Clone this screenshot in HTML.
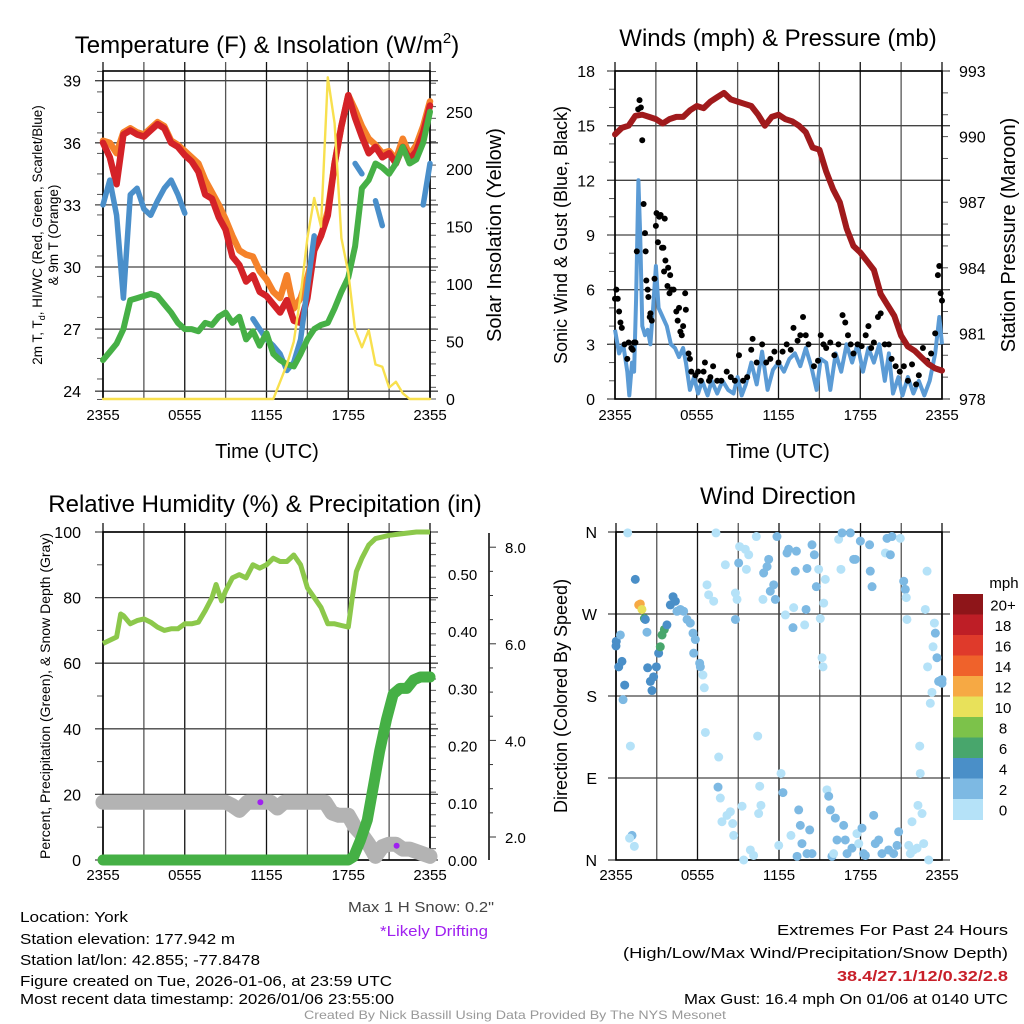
<!DOCTYPE html>
<html><head><meta charset="utf-8"><style>
html,body{margin:0;padding:0;background:#fff;}
svg{display:block;font-family:"Liberation Sans",sans-serif;}
</style></head><body>
<svg id="fig" width="1024" height="1024" viewBox="0 0 1024 1024" xmlns="http://www.w3.org/2000/svg">
<rect width="1024" height="1024" fill="#fff"/>
<g id="p1"></g>
<g id="p2"></g>
<g id="p3"></g>
<g id="p4"></g>

<text x="267" y="53" font-size="24" text-anchor="middle">Temperature (F) &amp; Insolation (W/m<tspan font-size="15" dy="-10">2</tspan><tspan dy="10">)</tspan></text>
<text x="778" y="46" font-size="24" text-anchor="middle">Winds (mph) &amp; Pressure (mb)</text>
<text x="265" y="512" font-size="24" text-anchor="middle">Relative Humidity (%) &amp; Precipitation (in)</text>
<text x="778" y="504" font-size="24" text-anchor="middle">Wind Direction</text>

<text x="267" y="458" font-size="20" text-anchor="middle">Time (UTC)</text>
<text x="778" y="458" font-size="20" text-anchor="middle">Time (UTC)</text>

<text transform="translate(42,235) rotate(-90)" font-size="13.5" text-anchor="middle">2m T, T<tspan font-size="9" dy="3">d</tspan><tspan dy="-3">, HI/WC (Red, Green, Scarlet/Blue)</tspan></text>
<text transform="translate(58,235) rotate(-90)" font-size="13.5" text-anchor="middle">&amp; 9m T (Orange)</text>
<text transform="translate(501,235) rotate(-90)" font-size="20" text-anchor="middle">Solar Insolation (Yellow)</text>
<text transform="translate(567,235) rotate(-90)" font-size="18" text-anchor="middle">Sonic Wind &amp; Gust (Blue, Black)</text>
<text transform="translate(1015,235) rotate(-90)" font-size="20" text-anchor="middle">Station Pressure (Maroon)</text>
<text transform="translate(50,696) rotate(-90)" font-size="14" text-anchor="middle">Percent, Precipitation (Green), &amp; Snow Depth (Gray)</text>
<text transform="translate(567,696) rotate(-90)" font-size="18" text-anchor="middle">Direction (Colored By Speed)</text>

<text x="494" y="912" font-size="15" fill="#444" text-anchor="end" textLength="146" lengthAdjust="spacingAndGlyphs">Max 1 H Snow: 0.2"</text>
<text x="488" y="936" font-size="15" fill="#a020f0" text-anchor="end" textLength="108" lengthAdjust="spacingAndGlyphs">*Likely Drifting</text>

<g font-size="15">
<text x="20" y="922" textLength="108" lengthAdjust="spacingAndGlyphs">Location: York</text>
<text x="20" y="944" textLength="215" lengthAdjust="spacingAndGlyphs">Station elevation: 177.942 m</text>
<text x="20" y="965" textLength="240" lengthAdjust="spacingAndGlyphs">Station lat/lon: 42.855; -77.8478</text>
<text x="20" y="986" textLength="372" lengthAdjust="spacingAndGlyphs">Figure created on Tue, 2026-01-06, at 23:59 UTC</text>
<text x="20" y="1004" textLength="374" lengthAdjust="spacingAndGlyphs">Most recent data timestamp: 2026/01/06 23:55:00</text>
</g>
<g font-size="15" text-anchor="end">
<text x="1008" y="935" textLength="231" lengthAdjust="spacingAndGlyphs">Extremes For Past 24 Hours</text>
<text x="1008" y="958" textLength="385" lengthAdjust="spacingAndGlyphs">(High/Low/Max Wind/Precipitation/Snow Depth)</text>
<text x="1008" y="981" font-weight="bold" fill="#c8202a" textLength="171" lengthAdjust="spacingAndGlyphs">38.4/27.1/12/0.32/2.8</text>
<text x="1008" y="1004" textLength="324" lengthAdjust="spacingAndGlyphs">Max Gust: 16.4 mph On 01/06 at 0140 UTC</text>
</g>
<text x="515" y="1019" font-size="12" fill="#999" text-anchor="middle" textLength="422" lengthAdjust="spacingAndGlyphs">Created By Nick Bassill Using Data Provided By The NYS Mesonet</text>
</svg>
<script>
// ---------- data ----------
const halfHours = [0,0.5,1,1.5,2,2.5,3,3.5,4,4.5,5,5.5,6,6.5,7,7.5,8,8.5,9,9.5,10,10.5,11,11.5,12,12.5,13,13.5,14,14.5,15,15.5,16,16.5,17,17.5,18,18.5,19,19.5,20,20.5,21,21.5,22,22.5,23,23.5,24];
const timeTickLabels = ["2355","0555","1155","1755","2355"];
const temp2m = [36.0,35.3,34.0,36.4,36.6,36.4,36.3,36.6,36.9,36.7,36.0,35.8,35.4,35.1,34.6,33.5,33.3,32.4,31.8,30.5,30.1,29.3,29.6,28.8,28.6,28.2,27.8,28.4,27.4,27.3,28.5,30.8,31.5,32.5,35.0,36.8,38.3,37.2,36.3,35.5,35.8,35.3,35.5,35.0,35.8,35.2,35.6,36.5,37.8];
const temp9m = [36.1,36.0,35.5,36.5,36.7,36.5,36.4,36.7,37.0,36.8,36.1,35.9,35.6,35.3,35.0,34.2,33.6,33.0,32.3,31.5,30.8,30.6,30.5,29.8,29.4,28.8,28.5,29.6,28.0,28.5,29.5,30.8,31.5,32.7,35.0,36.8,38.3,37.6,36.8,36.2,35.9,35.5,35.6,35.2,36.2,35.4,35.9,36.8,38.0];
const dewpoint = [25.5,25.9,26.3,27.0,28.4,28.5,28.6,28.7,28.6,28.2,27.8,27.3,27.0,27.0,26.9,27.3,27.2,27.6,27.8,27.3,27.6,26.5,26.9,26.2,26.8,25.8,25.5,25.3,25.2,25.8,26.5,27.0,27.2,27.3,28.0,28.8,29.5,31.0,33.8,34.2,35.0,34.8,34.5,35.0,35.8,35.0,35.2,36.0,37.5];
const windChill = [33.0,34.2,32.5,28.5,33.5,33.8,32.8,32.5,33.2,33.8,34.2,33.5,32.6,null,null,null,null,null,null,null,null,null,27.5,27.0,26.5,26.2,25.8,25.0,25.4,26.5,29.0,31.5,null,null,34.5,null,null,35.0,34.5,null,33.2,32.0,null,null,null,null,null,33.0,35.0];
const insolation = [0,0,0,0,0,0,0,0,0,0,0,0,0,0,0,0,0,0,0,0,0,0,0,0,0,0,15,30,50,90,140,175,150,280,240,140,110,60,45,60,30,28,10,15,5,0,0,0,0];
const tempTicks = [24,27,30,33,36,39];
const insolTicks = [0,50,100,150,200,250];

const pressure = [990.1,990.4,990.5,990.95,991.0,990.9,990.8,990.6,990.8,990.9,990.9,991.2,991.4,991.3,991.6,991.8,992.0,991.7,991.6,991.5,991.4,991.0,990.5,990.9,991.0,990.8,990.7,990.5,990.2,989.5,989.4,988.4,987.6,987.0,985.8,985.0,984.7,984.3,983.9,982.8,982.3,981.8,980.9,980.4,980.2,979.9,979.6,979.4,979.3];
const windTimes = [0,0.3,0.6,0.9,1.05,1.25,1.4,1.55,1.72,1.85,2.0,2.2,2.4,2.6,2.8,3.0,3.2,3.5,3.8,4.1,4.4,4.7,5.0,5.2,5.5,5.8,6.1,6.4,6.8,7.1,7.5,7.9,8.3,8.7,9.0,9.3,9.6,10.0,10.4,10.8,11.2,11.6,12.0,12.4,12.8,13.2,13.6,14.0,14.4,14.8,15.1,15.5,15.8,16.2,16.6,17.0,17.4,17.8,18.2,18.6,19.0,19.4,19.8,20.1,20.4,20.8,21.1,21.5,21.9,22.3,22.7,23.1,23.5,23.8,24.0];
const windSpeed = [3.8,2.5,3.0,1.5,0.2,2.0,1.5,5.5,12.0,9.0,4.0,3.5,3.8,3.0,5.0,7.3,5.0,4.5,4.0,3.0,2.8,2.3,2.8,2.0,0.5,1.2,0.3,1.0,0.2,1.0,0.3,1.0,0.5,0.3,1.2,0.2,0.8,2.0,0.8,2.6,0.5,1.6,2.0,1.5,2.2,2.5,1.8,2.8,1.8,0.5,2.2,2.0,0.5,2.5,1.5,3.0,2.0,3.0,1.5,2.8,2.0,3.0,1.0,2.5,0.3,1.2,0.2,1.2,0.3,1.0,0.2,1.0,2.5,4.5,3.0];
const gustTimes = [0,0.1,0.2,0.3,0.4,0.5,0.7,0.9,1.0,1.2,1.3,1.4,1.5,1.6,1.7,1.8,1.9,2.0,2.1,2.2,2.25,2.3,2.4,2.45,2.55,2.6,2.7,2.9,3.0,3.05,3.15,3.25,3.35,3.45,3.55,3.65,3.6,3.7,3.85,3.9,4.0,4.05,4.15,4.3,4.5,4.6,4.7,4.8,4.9,5.0,5.15,5.2,5.4,5.5,5.6,5.9,6.1,6.3,6.5,6.6,6.9,7.0,7.2,7.5,7.8,8.2,8.5,8.8,9.1,9.4,9.7,10.0,10.1,10.4,10.8,11.1,11.4,11.7,12.0,12.3,12.6,12.9,13.1,13.4,13.6,13.8,14.0,14.2,14.6,14.9,15.1,15.3,15.5,15.8,16.1,16.4,16.7,16.9,17.1,17.3,17.5,17.8,18.1,18.4,18.6,18.8,19.0,19.3,19.5,19.8,20.1,20.3,20.6,20.9,21.2,21.5,21.8,22.1,22.3,22.6,22.9,23.2,23.5,23.7,23.8,23.9,24.0];
const gustSpeed = [5.5,6.0,5.5,4.8,4.2,3.9,3.0,2.2,3.1,2.8,2.7,3.1,3.1,8.1,15.9,16.4,16.0,14.2,10.7,9.1,8.1,6.5,6.0,5.6,4.5,4.7,4.3,6.6,9.5,10.2,8.6,10.0,10.1,8.3,8.3,9.9,7.0,7.6,6.2,7.2,5.8,6.8,6.0,6.0,4.8,4.3,5.0,3.7,3.5,4.0,5.8,4.9,2.5,2.2,1.5,1.3,1.5,1.0,1.5,2.0,1.0,1.2,1.8,1.0,1.0,1.5,1.2,1.0,2.4,1.0,1.2,2.7,3.3,2.0,3.0,2.0,2.2,2.6,2.0,2.6,3.0,2.7,3.9,3.2,3.5,4.5,3.5,3.0,1.8,2.1,3.5,3.0,2.8,3.1,2.4,3.0,4.6,4.2,3.5,3.0,2.5,3.0,2.9,3.5,4.0,2.8,3.1,4.5,4.7,3.0,3.0,2.2,1.8,1.5,1.8,1.0,1.9,0.8,1.3,2.8,2.1,2.5,3.6,6.8,7.3,5.8,5.4];
const windTicks = [0,3,6,9,12,15,18];
const pressureTicks = [978,981,984,987,990,993];

const rhTimes = [0,0.5,1,1.3,1.5,2,2.5,3,3.5,4,4.5,5,5.5,6,6.5,7,7.5,8,8.3,8.7,9,9.5,10,10.5,11,11.5,12,12.5,13,13.5,14,14.5,15,15.5,16,16.5,17,17.5,18,18.3,18.6,19,19.5,20,21,22,23,24];
const rhValues = [66,67,68,75,74.5,72,73,73.5,72.5,71,70,70.5,70.5,72,72,72.5,76,80,84,79,82,86,87,86,90,89,90,92,91,91,93,90,83,80,77,72,72,71.5,71,80,88,92,96,98,99,99.5,100,100];
const precipTimes = [0,18.0,18.4,18.9,19.4,19.85,20.3,20.8,21.3,21.8,22.3,22.8,23.3,24];
const precipValues = [0,0,0.006,0.035,0.07,0.13,0.19,0.245,0.29,0.30,0.30,0.315,0.32,0.32];
const snowTimes = [0,9.0,9.5,10.0,10.6,11.5,12.3,12.8,13.3,16.3,16.8,17.3,18.0,18.5,19.0,19.5,20.0,20.5,21.0,21.5,22.0,22.5,23.0,24];
const snowDepth = [2.72,2.72,2.65,2.55,2.72,2.72,2.72,2.6,2.72,2.72,2.5,2.45,2.45,2.2,2.05,1.85,1.6,1.8,1.85,1.85,1.75,1.75,1.7,1.6];
const driftTimes = [11.55,21.55];
const driftDepth = [2.72,1.82];
const rhTicks = [0,20,40,60,80,100];
const precipTicks = [0,0.1,0.2,0.3,0.4,0.5];
const snowTicks = [2,4,6,8];

const dirTimes = [0,0.02,0.2,0.32,0.44,0.64,0.52,0.86,1.06,1.18,1.0,1.35,1.42,1.67,1.79,1.91,2.09,2.16,2.28,2.33,2.53,2.65,2.77,2.97,3.14,3.26,3.39,3.56,3.75,4.0,4.2,4.37,4.49,4.74,4.98,5.23,5.47,5.67,5.72,5.84,6.16,6.21,6.4,6.5,6.58,6.7,6.82,7.19,7.36,7.56,7.51,7.68,7.8,8.05,8.17,8.42,8.59,8.66,8.79,8.79,8.91,9.03,9.1,9.28,9.4,9.52,9.6,9.77,9.89,10.13,10.33,10.43,10.5,10.58,10.67,10.82,10.87,11.12,11.24,11.36,11.61,11.73,11.85,11.98,12.15,12.29,12.47,12.59,12.71,12.88,13.03,13.08,13.2,13.28,13.33,13.45,13.57,13.69,13.89,13.99,14.06,14.06,14.26,14.43,14.43,14.6,14.75,14.92,15.04,15.17,15.24,15.29,15.41,15.53,15.66,15.78,15.9,16.02,16.15,16.27,16.39,16.56,16.64,16.76,16.88,17.01,17.25,17.37,17.5,17.62,17.74,17.87,17.99,18.11,18.23,18.36,18.67,18.72,18.85,18.97,19.09,19.34,19.58,19.83,19.95,20.07,20.2,20.32,20.44,20.69,20.81,20.93,21.18,21.3,21.37,21.42,21.55,21.67,21.79,21.91,22.16,22.23,22.36,22.4,22.53,22.65,22.77,22.9,22.94,23.02,23.14,23.26,23.34,23.44,23.51,23.63,23.75,23.88,24,24];
const dirDegrees = [235,240,212,247,218,192,176,359,125,27,24,15,308,280,281,275,265,264,250,211,196,186,201,212,227,234,247,253,258,280,289,284,273,275,273,264,260,249,227,242,216,212,203,189,140,302,291,284,359,113,80,68,42,324,49,53,40,27,293,264,286,326,344,59,0,341,319,335,11,5,355,136,51,81,60,286,315,322,330,295,302,286,355,16,95,74,269,337,341,27,255,277,317,339,4,55,38,18,258,275,320,7,33,346,7,335,300,319,265,222,212,282,308,77,70,55,4,7,46,22,352,319,359,38,22,7,359,13,330,330,29,18,350,35,7,5,346,317,300,49,18,22,7,337,353,11,335,355,7,16,31,353,306,297,288,264,16,7,42,11,13,60,125,95,51,18,275,317,212,0,172,184,234,260,249,222,196,197,198,194];
const dirSpeed = [5,5,5,3,5,5,3,1,1,3,1,1,5,13,13,11,7,5,3,5,5,5,5,5,5,7,7,7,5,5,5,5,3,3,3,3,3,3,3,3,3,3,1,1,1,1,1,1,1,1,3,1,1,1,1,1,1,1,1,3,1,3,1,1,1,1,1,1,1,1,1,1,1,1,1,1,3,3,3,3,3,3,3,1,1,3,1,3,3,1,3,1,3,3,3,3,3,3,1,3,3,3,3,3,3,3,3,1,1,1,1,1,1,1,3,3,3,1,3,3,1,1,3,3,3,3,3,3,3,3,1,1,3,3,3,3,3,3,3,3,3,3,3,1,3,3,3,3,3,3,3,1,3,3,1,1,1,1,1,1,1,1,1,1,1,1,1,1,1,1,1,1,1,1,3,3,3,3,3,3];
const speedBins = ["0","2","4","6","8","10","12","14","16","18","20+"];
const speedColors = ["#b5e2f8","#7db9e3","#4a8fc8","#48a66c","#7cc24a","#e8e15a","#f6a944","#ef622b","#df3a2b","#be1e26","#8e1519"];
const dirLabels = ["N","W","S","E","N"];
const dirTickDegs = [360,270,180,90,0];

// ---------- helpers ----------
const NS = "http://www.w3.org/2000/svg";
function mk(parent, tag, attrs){const e=document.createElementNS(NS,tag);for(const k in attrs)e.setAttribute(k,attrs[k]);parent.appendChild(e);return e;}
function linePath(xs, ys, sx, sy){
  let d="", pen=false;
  for(let i=0;i<xs.length;i++){
    if(ys[i]===null||ys[i]===undefined){pen=false;continue;}
    d += (pen?"L":"M")+sx(xs[i]).toFixed(1)+" "+sy(ys[i]).toFixed(1);
    pen=true;
  }
  return d;
}
function frame(g, L, T, R, B, hGrid, name){
  for(let h=0;h<=24;h+=3){
    const x=L+(R-L)*h/24;
    const ln=mk(g,"line",{x1:x,y1:T-9,x2:x,y2:B,stroke:(h%6==0)?"#111":"#555","stroke-width":1.3});
    
    
  }
  hGrid.forEach(y=>{
    const ln=mk(g,"line",{x1:L-8,y1:y,x2:R+8,y2:y,stroke:"#444","stroke-width":1.3});
    
    
  });
}
function box(g,L,T,R,B,name){
  const r=mk(g,"rect",{x:L,y:T,width:R-L,height:B-T,fill:"none",stroke:"#000","stroke-width":1.6});
  
  
}
function xLabels(g,L,R,y,name){
  timeTickLabels.forEach((s,i)=>{
    const t=mk(g,"text",{x:L+(R-L)*i/4,y:y,"font-size":15,"text-anchor":"middle"});
    t.textContent=s;
    
    
  });
}
function minorTicks(g,x,T,B,n,dir){
  for(let i=0;i<=n;i++){
    const y=T+(B-T)*i/n;
    const ln=mk(g,"line",{x1:x,y1:y,x2:x+dir*6,y2:y,stroke:"#555","stroke-width":1});
    
    
  }
}

// ---------- Panel 1 ----------
(function(){
  const g=document.getElementById("p1");
  const L=103,R=430,T=71,B=399;
  const sx=t=>L+(R-L)*t/24;
  const sy=v=>80.7+(39-v)*20.7;
  const si=v=>399-v*1.149;
  frame(g,L,T,R,B,tempTicks.map(sy),"p1");
  minorTicks(g,L,sy(39.45),sy(23.6),16,-1);
  minorTicks(g,R,si(285),si(0),28,1);
  box(g,L,T,R,B,"p1");
  const series=[[temp9m,"#f5822a",6.5,"orange-9m-temp-line"],[temp2m,"#d42228",6.5,"red-2m-temp-line"],[windChill,"#4a8fca",5.5,"blue-windchill-line"],[dewpoint,"#46b046",6,"green-dewpoint-line"],[insolation,"#f8e04e",2.4,"yellow-insolation-line"]];
  series.forEach(s=>{
    const scale = s[0]===insolation?si:sy;
    const p=mk(g,"path",{d:linePath(halfHours,s[0],sx,scale),fill:"none",stroke:s[1],"stroke-width":s[2],"stroke-linejoin":"round","stroke-linecap":"round"});
    
    
  });
  tempTicks.forEach(v=>{
    const t=mk(g,"text",{x:L-22,y:sy(v)+6,"font-size":16,"text-anchor":"end"});t.textContent=v;
    
    
  });
  insolTicks.forEach(v=>{
    const t=mk(g,"text",{x:R+16,y:si(v)+6,"font-size":16});t.textContent=v;
    
    
  });
  xLabels(g,L,R,420,"p1");
})();

// ---------- Panel 2 ----------
(function(){
  const g=document.getElementById("p2");
  const L=615,R=942,T=71,B=399;
  const sx=t=>L+(R-L)*t/24;
  const sy=v=>B-(B-T)*v/18;
  const sp=v=>T+(993-v)*(B-T)/15;
  frame(g,L,T,R,B,windTicks.map(sy),"p2");
  minorTicks(g,L,T,B,18,-1);
  minorTicks(g,R,T,B,15,1);
  box(g,L,T,R,B,"p2");
  let p=mk(g,"path",{d:linePath(windTimes,windSpeed,sx,sy),fill:"none",stroke:"#5b9bd5","stroke-width":4,"stroke-linejoin":"round"});
  
  
  gustTimes.forEach((t,i)=>{
    const c=mk(g,"circle",{cx:sx(t),cy:sy(gustSpeed[i]),r:3,fill:"#000"});
    
    
  });
  p=mk(g,"path",{d:linePath(halfHours,pressure,sx,sp),fill:"none",stroke:"#a01a1c","stroke-width":6,"stroke-linejoin":"round","stroke-linecap":"round"});
  
  
  windTicks.forEach(v=>{
    const t=mk(g,"text",{x:L-20,y:sy(v)+6,"font-size":16,"text-anchor":"end"});t.textContent=v;
    
    
  });
  pressureTicks.forEach(v=>{
    const t=mk(g,"text",{x:R+17,y:sp(v)+6,"font-size":16});t.textContent=v;
    
    
  });
  xLabels(g,L,R,420,"p2");
})();

// ---------- Panel 3 ----------
(function(){
  const g=document.getElementById("p3");
  const L=103,R=430,T=532,B=860;
  const sx=t=>L+(R-L)*t/24;
  const sy=v=>B-(B-T)*v/100;
  const spr=v=>B-v*572;
  const ssn=v=>837-(v-2)*48.3;
  frame(g,L,T,R,B,rhTicks.map(sy),"p3");
  minorTicks(g,L,T,B,10,-1);
  minorTicks(g,R,T,B,29,1);
  box(g,L,T,R,B,"p3");
  let p=mk(g,"path",{d:linePath(rhTimes,rhValues,sx,sy),fill:"none",stroke:"#8cc84b","stroke-width":5,"stroke-linejoin":"round"});
  
  
  p=mk(g,"path",{d:linePath(snowTimes,snowDepth,sx,ssn),fill:"none",stroke:"#b3b3b3","stroke-width":15,"stroke-linejoin":"round","stroke-linecap":"round"});
  
  
  p=mk(g,"path",{d:linePath(precipTimes,precipValues,sx,spr),fill:"none",stroke:"#45b045","stroke-width":11,"stroke-linejoin":"round","stroke-linecap":"round"});
  
  
  driftTimes.forEach((t,i)=>{
    const c=mk(g,"circle",{cx:sx(t),cy:ssn(driftDepth[i]),r:3,fill:"#a020f0"});
    
    
  });
  rhTicks.forEach(v=>{
    const t=mk(g,"text",{x:L-22,y:sy(v)+6,"font-size":16,"text-anchor":"end"});t.textContent=v;
    
    
  });
  precipTicks.forEach(v=>{
    const t=mk(g,"text",{x:R+18,y:spr(v)+6,"font-size":15});t.textContent=v.toFixed(2);
    
    
  });
  const ax=489;
  const al=mk(g,"line",{x1:ax,y1:533,x2:ax,y2:860,stroke:"#000","stroke-width":1.5});
  
  
  for(let v=1.5;v<=8.3;v+=0.5){
    const y=ssn(v); if(y<533||y>860) continue;
    const major=Math.abs(v-Math.round(v/2)*2)<1e-6;
    const tk=mk(g,"line",{x1:ax,y1:y,x2:ax+(major?7:4),y2:y,stroke:"#333","stroke-width":1});
    
    
  }
  snowTicks.forEach(v=>{
    const t=mk(g,"text",{x:ax+16,y:ssn(v)+6,"font-size":15});t.textContent=v.toFixed(1);
    
    
  });
  xLabels(g,L,R,880,"p3");
})();

// ---------- Panel 4 ----------
(function(){
  const g=document.getElementById("p4");
  const L=616,R=942,T=532,B=860;
  const sx=t=>L+(R-L)*t/24;
  const sy=d=>B-(B-T)*d/360;
  frame(g,L,T,R,B,dirTickDegs.map(sy),"p4");
  box(g,L,T,R,B,"p4");
  dirTimes.forEach((t,i)=>{
    const bin=Math.min(10,Math.floor(dirSpeed[i]/2));
    const c=mk(g,"circle",{cx:sx(t),cy:sy(dirDegrees[i]),r:4.5,fill:speedColors[bin]});
    
    
  });
  dirLabels.forEach((s,i)=>{
    const t=mk(g,"text",{x:597,y:sy(dirTickDegs[i])+6,"font-size":16,"text-anchor":"end"});t.textContent=s;
    
    
  });
  xLabels(g,L,R,880,"p4");
  const cbT=594,cbH=20.5,cbX=953,cbW=30;
  const ttl=mk(g,"text",{x:1004,y:588,"font-size":15,"text-anchor":"middle"});ttl.textContent="mph";
  
  
  for(let i=0;i<speedBins.length;i++){
    const k=speedBins.length-1-i;
    const r=mk(g,"rect",{x:cbX,y:cbT+i*cbH,width:cbW,height:cbH+0.5,fill:speedColors[k]});
    
    
    const t=mk(g,"text",{x:1003,y:cbT+i*cbH+cbH/2+6,"font-size":15,"text-anchor":"middle"});t.textContent=speedBins[k];
    
    
  }
})();
</script>
</body></html>
